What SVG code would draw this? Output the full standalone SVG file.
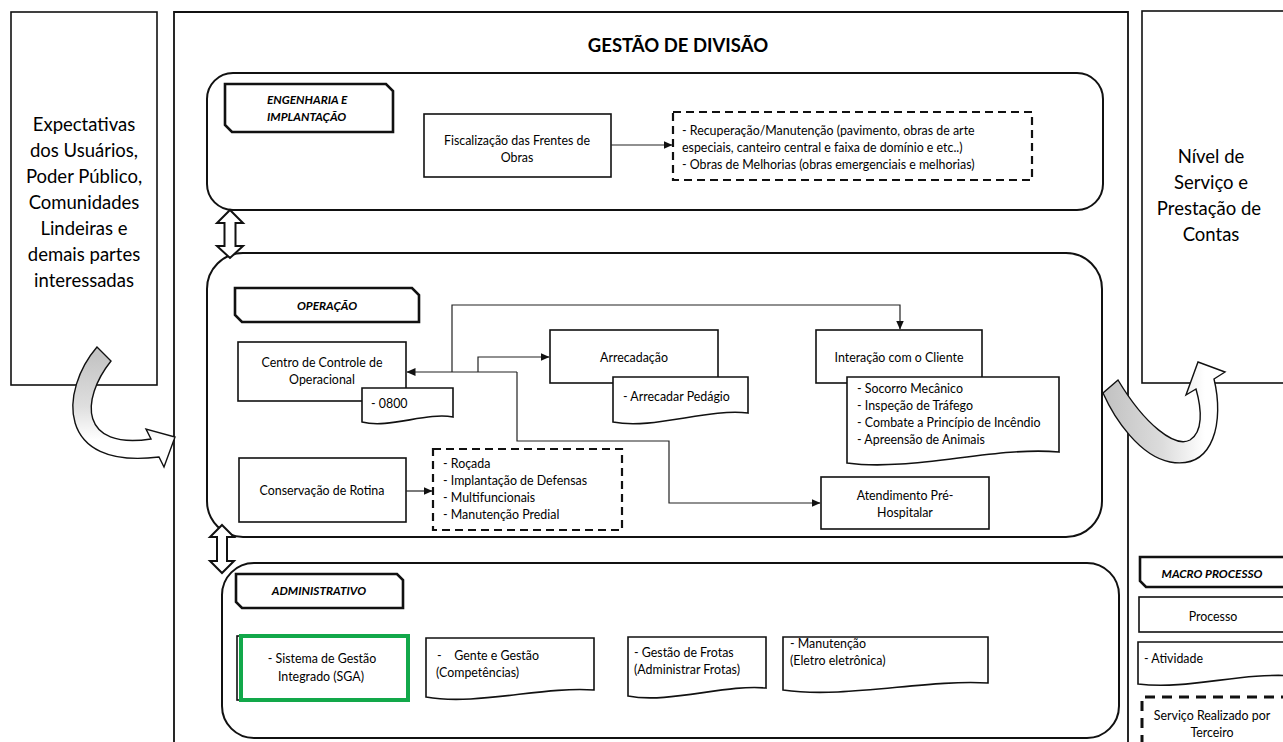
<svg xmlns="http://www.w3.org/2000/svg" width="1283" height="742" viewBox="0 0 1283 742">
<defs>
<style>
text{font-family:Lato,"Liberation Sans",sans-serif;fill:#000;}
.big{font-size:18.5px;text-anchor:middle;}
.t{font-size:12.4px;}
.c{text-anchor:middle;}
.lbl{font-size:11.8px;font-weight:bold;font-style:italic;}
.box{fill:#fff;stroke:#111;stroke-width:1.6;}
.sec{fill:#fff;stroke:#111;stroke-width:2;}
.tag{fill:#fff;stroke:#111;stroke-width:2.6;}
.dash{fill:#fff;stroke:#111;stroke-width:2.2;stroke-dasharray:8 5;}
.ln{fill:none;stroke:#222;stroke-width:1.2;}
.dbl{fill:#fff;stroke:#111;stroke-width:2;}
</style>
<marker id="ah" markerWidth="9" markerHeight="8" refX="8.5" refY="4" orient="auto" markerUnits="userSpaceOnUse">
<path d="M0 0 L9 4 L0 8 Z" fill="#111"/>
</marker>
<linearGradient id="gl" gradientUnits="userSpaceOnUse" x1="0" y1="355" x2="0" y2="440">
<stop offset="0" stop-color="#c4c4c4"/><stop offset="0.6" stop-color="#dedede"/><stop offset="1" stop-color="#fff"/>
</linearGradient>
<linearGradient id="gr" gradientUnits="userSpaceOnUse" x1="1110" y1="0" x2="1205" y2="0">
<stop offset="0" stop-color="#c4c4c4"/><stop offset="0.55" stop-color="#dcdcdc"/><stop offset="1" stop-color="#fff"/>
</linearGradient>
</defs>
<rect width="1283" height="742" fill="#fff"/>

<g id="frame">
<path d="M174 745 V12 H1128 V745" fill="#fff" stroke="#111" stroke-width="1.8"/>
<text x="678" y="52" style="font-size:18.5px;font-weight:bold;" class="c">GESTÃO DE DIVISÃO</text>
</g>

<g id="expectativas">
<rect x="11" y="12" width="146" height="373" class="box"/>
<text class="big"><tspan x="84" y="131">Expectativas</tspan><tspan x="84" y="157">dos Usuários,</tspan><tspan x="84" y="183">Poder Público,</tspan><tspan x="84" y="209">Comunidades</tspan><tspan x="84" y="235">Lindeiras e</tspan><tspan x="84" y="261">demais partes</tspan><tspan x="84" y="287">interessadas</tspan></text>
</g>

<g id="nivel-servico">
<rect x="1142" y="11" width="160" height="372" class="box"/>
<text class="big"><tspan x="1211" y="163">Nível de</tspan><tspan x="1211" y="189">Serviço e</tspan><tspan x="1209" y="215">Prestação de</tspan><tspan x="1211" y="241">Contas</tspan></text>
</g>

<g id="engenharia">
<rect x="207" y="73" width="896" height="137" rx="26" class="sec"/>
<path d="M225 84 H386 L393 91 V132 H232 L225 125 Z" class="tag"/>
<text class="lbl"><tspan x="267" y="104">ENGENHARIA E</tspan><tspan x="267" y="121">IMPLANTAÇÃO</tspan></text>
</g>

<g id="fiscalizacao">
<rect x="424" y="114" width="187" height="63" class="box"/>
<text class="t c"><tspan x="517" y="145">Fiscalização das Frentes de</tspan><tspan x="517" y="162">Obras</tspan></text>
</g>

<g id="recuperacao">
<rect x="673" y="112" width="359" height="68" class="dash"/>
<text class="t"><tspan x="682" y="135">- Recuperação/Manutenção (pavimento, obras de arte</tspan><tspan x="682" y="152">especiais, canteiro central e faixa de domínio e etc..)</tspan><tspan x="682" y="169">- Obras de Melhorias (obras emergenciais e melhorias)</tspan></text>
</g>

<g id="operacao">
<rect x="207" y="253" width="895" height="284" rx="36" class="sec"/>
<path d="M235 288 H412 L419 295 V322 H242 L235 315 Z" class="tag"/>
<text x="327" y="310" class="lbl c">OPERAÇÃO</text>
</g>

<g id="centro-controle">
<rect x="238" y="342" width="168" height="59" class="box"/>
<text class="t c"><tspan x="322" y="367">Centro de Controle de</tspan><tspan x="322" y="384">Operacional</tspan></text>
<path d="M362 388 H453 V417 C426 412, 389 429, 362 422 Z" class="box"/>
<text x="371" y="408" class="t">- 0800</text>
</g>

<g id="arrecadacao">
<rect x="550" y="330" width="168" height="53" class="box"/>
<text x="634" y="362" class="t c">Arrecadação</text>
<path d="M613 377 H748 V413 C708 408, 653 430, 613 422 Z" class="box"/>
<text x="623" y="401" class="t">- Arrecadar Pedágio</text>
</g>

<g id="interacao-cliente">
<rect x="816" y="330" width="166" height="53" class="box"/>
<text x="899" y="362" class="t c">Interação com o Cliente</text>
<path d="M847 377 H1059 V452 C995 446, 911 472, 847 463 Z" class="box"/>
<text class="t"><tspan x="857" y="393">- Socorro Mecânico</tspan><tspan x="857" y="410">- Inspeção de Tráfego</tspan><tspan x="857" y="427">- Combate a Princípio de Incêndio</tspan><tspan x="857" y="444">- Apreensão de Animais</tspan></text>
</g>

<g id="atendimento">
<rect x="821" y="477" width="168" height="52" class="box"/>
<text class="t c"><tspan x="905" y="500">Atendimento Pré-</tspan><tspan x="905" y="517">Hospitalar</tspan></text>
</g>

<g id="conservacao">
<rect x="239" y="458" width="167" height="64" class="box"/>
<text x="322" y="495" class="t c">Conservação de Rotina</text>
</g>

<g id="rocada">
<rect x="433" y="449" width="189" height="81" class="dash"/>
<text class="t"><tspan x="443" y="468">- Roçada</tspan><tspan x="443" y="485">- Implantação de Defensas</tspan><tspan x="443" y="502">- Multifuncionais</tspan><tspan x="443" y="519">- Manutenção Predial</tspan></text>
</g>

<g id="administrativo">
<rect x="222" y="563" width="897" height="175" rx="32" class="sec"/>
<path d="M236 574 H397 L403 580 V608 H242 L236 602 Z" class="tag"/>
<text x="319" y="595" class="lbl c">ADMINISTRATIVO</text>
</g>

<g id="sga">
<rect x="237" y="636" width="167" height="64" class="box"/>
<rect x="241" y="636" width="167" height="64" fill="#fff" stroke="#12a84a" stroke-width="4"/>
<text class="t c"><tspan x="322" y="663">- Sistema de Gestão</tspan><tspan x="321" y="681">Integrado (SGA)</tspan></text>
</g>

<g id="gente-gestao">
<path d="M426 638 H594 V690 C544 686, 476 706, 426 697 Z" class="box"/>
<text class="t"><tspan x="437" y="660" xml:space="preserve">-    Gente e Gestão</tspan><tspan x="436" y="677">(Competências)</tspan></text>
</g>

<g id="gestao-frotas">
<path d="M628 637 H766 V688 C725 684, 669 704, 628 696 Z" class="box"/>
<text class="t"><tspan x="634" y="657">- Gestão de Frotas</tspan><tspan x="634" y="674">(Administrar Frotas)</tspan></text>
</g>

<g id="manutencao">
<path d="M783 637 H988 V683 C927 679, 845 699, 783 690 Z" class="box"/>
<text class="t"><tspan x="790" y="648">- Manutenção</tspan><tspan x="790" y="665">(Eletro eletrônica)</tspan></text>
</g>

<g id="legenda">
<path d="M1140 557 H1295 V587 H1146 L1140 581 Z" class="tag"/>
<text x="1212" y="578" class="lbl c">MACRO PROCESSO</text>
<rect x="1139" y="597" width="160" height="35" class="box"/>
<text x="1213" y="621" class="t c">Processo</text>
<path d="M1138 642 H1295 V676 C1240 672, 1190 690, 1138 684 Z" class="box"/>
<text x="1144" y="663" class="t">- Atividade</text>
<path d="M1142 745 V697 H1295" fill="none" stroke="#111" stroke-width="3" stroke-dasharray="10 7"/>
<text class="t c"><tspan x="1212" y="720">Serviço Realizado por</tspan><tspan x="1212" y="737">Terceiro</tspan></text>
</g>

<g id="connectors">
<path d="M611 145 H672" class="ln" marker-end="url(#ah)"/>
<path d="M517 372 H407" class="ln" marker-end="url(#ah)"/>
<path d="M452 372 V305 H900 V329" class="ln" marker-end="url(#ah)"/>
<path d="M478 372 V357 H549" class="ln" marker-end="url(#ah)"/>
<path d="M517 372 V441 H669 V503 H820" class="ln" marker-end="url(#ah)"/>
<path d="M406 491 H432" class="ln" marker-end="url(#ah)"/>
<path d="M230 210 L243 223 L235.5 223 L235.5 246 L243 246 L230 258 L217 246 L224.5 246 L224.5 223 L217 223 Z" class="dbl"/>
<path d="M222 525 L234 537 L227 537 L227 561 L234 561 L222 573 L210 561 L217 561 L217 537 L210 537 Z" class="dbl"/>
<path d="M97 347 C60 390, 55 470, 159 457 L164 467 L175 437 L146 429 L151 439 C80 450, 80 400, 111 361 Z" fill="url(#gl)" stroke="#111" stroke-width="1.4"/>
<path d="M1118 380 C1145 425, 1175 448, 1190 440 C1203 432, 1202 410, 1196 389 L1186 395 L1198 362 L1225 372 L1214 379 C1224 420, 1215 470, 1170 462 C1140 456, 1115 420, 1103 393 Z" fill="url(#gr)" stroke="#111" stroke-width="1.4"/>
</g>
</svg>
